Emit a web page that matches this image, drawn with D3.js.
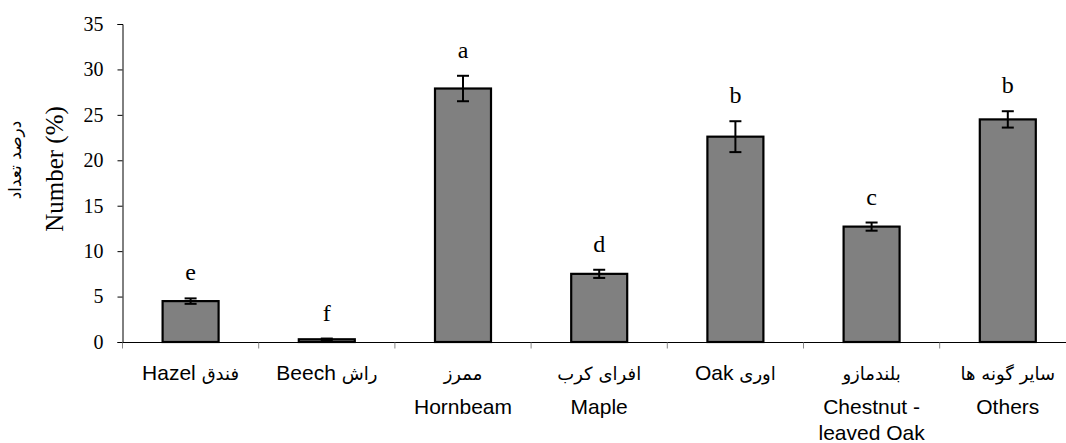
<!DOCTYPE html>
<html><head><meta charset="utf-8">
<script src="https://cdn.jsdelivr.net/npm/d3@7/dist/d3.min.js"></script>
<style>body{margin:0;background:#fff}svg{display:block}</style>
</head><body><svg id="c" width="1066" height="443"></svg>
<script>
const categories = ["Hazel","Beech","Hornbeam","Maple","Oak","Chestnut-leaved Oak","Others"];
const values = [4.5, 0.3, 27.9, 7.5, 22.6, 12.7, 24.5];
const errors = [0.3, 0.08, 1.4, 0.45, 1.7, 0.45, 0.9];
const letters = ["e","f","a","d","b","c","b"];
const labelRow1 = ["Hazel فندق","Beech راش","ممرز","افرای کرب","Oak اوری","بلندمازو","سایر گونه ها"];
const labelRow2 = ["","","Hornbeam","Maple","","Chestnut -","Others"];
const labelRow3 = ["","","","","","leaved Oak",""];
const yTicks = [0,5,10,15,20,25,30,35];

const svg = d3.select("#c");
const x0 = 122.5, yBase = 342, yTop = 24, bandW = 136.2;
const x = d3.scaleBand().domain(categories).range([x0, x0 + bandW*categories.length]).paddingInner(0).paddingOuter(0);
const y = d3.scaleLinear().domain([0,35]).range([yBase, yTop]);
const bw = 56;
const serif = "'Liberation Serif','Times New Roman',serif";

// y axis
const ya = svg.append("g").attr("transform",`translate(${x0},0)`)
  .call(d3.axisLeft(y).tickValues(yTicks).tickSize(5).tickPadding(14));
ya.select(".domain").attr("stroke","#000").attr("stroke-width",1);
ya.selectAll("text").attr("font-family",serif).attr("font-size",20).attr("fill","#000");

// x axis
const xa = svg.append("g").attr("transform",`translate(0,${yBase+0.5})`);
xa.append("line").attr("x1",x0).attr("x2",1066).attr("stroke","#000");
const bounds = d3.range(categories.length+1).map(i => x0 + i*x.step());
xa.selectAll("line.t").data(bounds).join("line").attr("class","t")
  .attr("x1",d=>d).attr("x2",d=>d).attr("y1",0).attr("y2",6).attr("stroke","#888");

// bars
svg.selectAll("rect.bar").data(categories).join("rect").attr("class","bar")
  .attr("x",(d)=>x(d)+x.bandwidth()/2-bw/2)
  .attr("y",(d,i)=>y(values[i]))
  .attr("width",bw)
  .attr("height",(d,i)=>yBase-y(values[i]))
  .attr("fill","#808080").attr("stroke","#000").attr("stroke-width",2.2);

// error bars
const eb = svg.append("g").attr("stroke","#000").attr("stroke-width",2);
categories.forEach((c,i)=>{
  const cx = x(c)+x.bandwidth()/2;
  const t = y(values[i]+errors[i]), b = y(values[i]-errors[i]);
  eb.append("line").attr("x1",cx).attr("x2",cx).attr("y1",t).attr("y2",b);
  eb.append("line").attr("x1",cx-6).attr("x2",cx+6).attr("y1",t).attr("y2",t);
  eb.append("line").attr("x1",cx-6).attr("x2",cx+6).attr("y1",b).attr("y2",b);
});

// letters
svg.selectAll("text.let").data(categories).join("text").attr("class","let")
  .attr("x",d=>x(d)+x.bandwidth()/2)
  .attr("y",(d,i)=>y(values[i]+errors[i])-18)
  .attr("text-anchor","middle")
  .attr("font-family",serif).attr("font-size",24)
  .text((d,i)=>letters[i]);

// x labels
const rows = [[labelRow1,380],[labelRow2,414],[labelRow3,440]];
rows.forEach(([arr,yy],ri)=>{
  svg.selectAll("text.r"+ri).data(categories).join("text").attr("class","r"+ri)
    .attr("x",d=>x(d)+x.bandwidth()/2).attr("y",yy)
    .attr("text-anchor","middle")
    .attr("direction","ltr")
    .attr("font-family","'Liberation Sans',Arial,'DejaVu Sans',sans-serif")
    .attr("font-size",21)
    .each(function(d,i){
      const s = arr[i];
      const el = d3.select(this);
      const parts = s.split(/(\s+)/).filter(p=>p.length);
      parts.forEach(p=>{
        const ar = /[\u0600-\u06FF]/.test(p);
        el.append("tspan").attr("font-size", ar?18:21)
          .attr("font-family", ar?"'DejaVu Sans',sans-serif":"'Liberation Sans',Arial,sans-serif")
          .text(p);
      });
    });
});

// y labels
svg.append("text").attr("transform",`translate(63,169) rotate(-90)`)
  .attr("text-anchor","middle").attr("font-family",serif)
  .attr("font-size",25).text("Number (%)");
svg.append("text").attr("transform",`translate(21,160) rotate(-90)`)
  .attr("text-anchor","middle").attr("font-family","'DejaVu Sans',sans-serif")
  .attr("font-size",17).text("درصد تعداد");
</script></body></html>
